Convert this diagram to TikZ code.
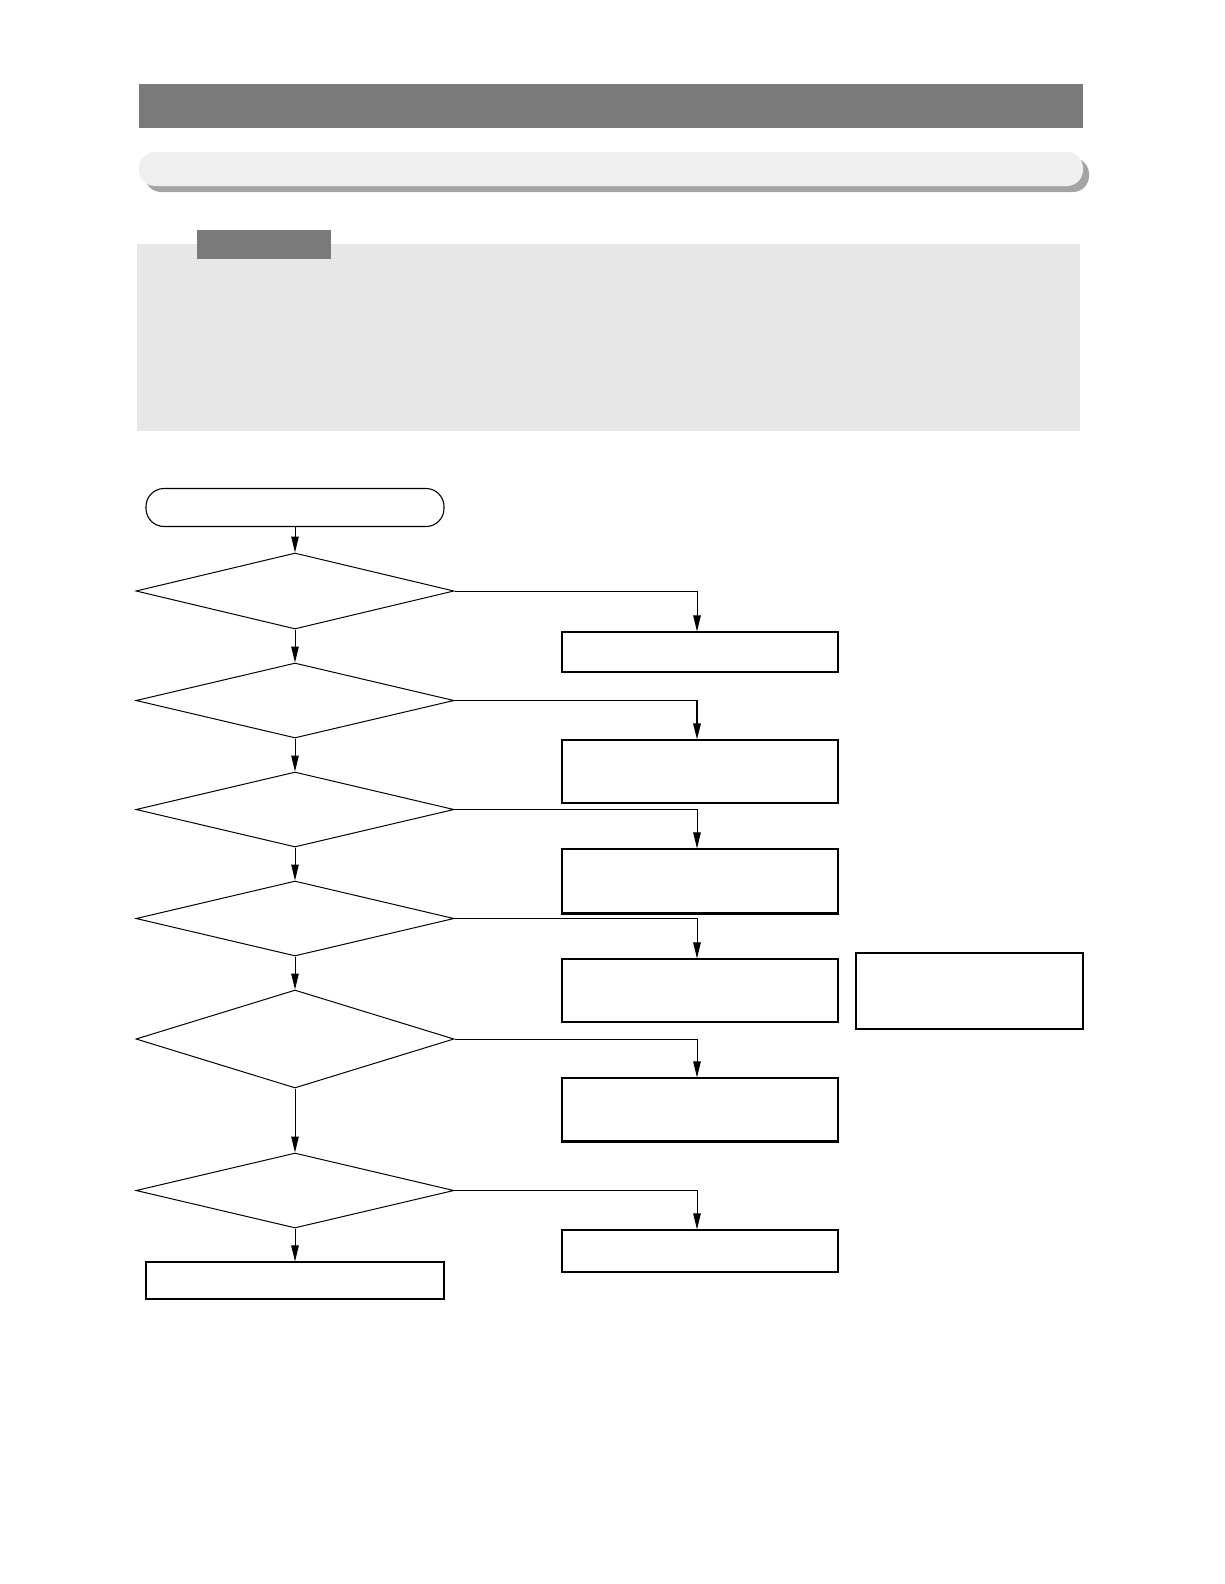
\documentclass[tikz,border=0pt]{standalone}
\usetikzlibrary{shapes.geometric,arrows.meta}
\definecolor{headgrey}{HTML}{7A7A7A}
\definecolor{panelgrey}{HTML}{E7E7E7}
\definecolor{barlight}{HTML}{EFEFEF}
\definecolor{barshadow}{HTML}{A4A4A4}
\tikzset{
  decision/.style={diamond,draw,line width=1pt,inner sep=0pt,minimum width=318pt},
  actbox/.style={rectangle,draw,line width=1.1pt,inner sep=0pt,minimum width=276pt},
  termbox/.style={rectangle,draw,line width=1.1pt,inner sep=0pt,minimum width=298pt},
  flow/.style={line width=1pt,-{Triangle[length=16pt,width=7.5pt]}}
}
\begin{document}
\begin{tikzpicture}[x=1pt,y=-1pt]
\useasboundingbox (0,0) rectangle (1224,1584);
% header bars
\fill[headgrey] (139,84) rectangle (1083,128);
\fill[barshadow,rounded corners=16pt] (145,158) rectangle (1089,192);
\fill[barlight,rounded corners=16pt] (139,152) rectangle (1083,186);
% note panel
\fill[panelgrey] (137,244) rectangle (1080,431);
\fill[headgrey] (197,230) rectangle (331,259);
% flowchart
\node[termbox,rounded corners=18pt,minimum height=38pt] (start) at (295,507.5) {};
\node[decision,minimum height=76pt] (d1) at (295,591) {};
\node[decision,minimum height=75pt] (d2) at (295,700.5) {};
\node[decision,minimum height=75pt] (d3) at (295,809.5) {};
\node[decision,minimum height=75pt] (d4) at (295,918.5) {};
\node[decision,minimum height=98pt] (d5) at (295,1039) {};
\node[decision,minimum height=75pt] (d6) at (295,1190.5) {};
\node[termbox,minimum height=37pt] (finish) at (295,1280.5) {};
\node[actbox,minimum height=40pt] (b1) at (700,652) {};
\node[actbox,minimum height=63pt] (b2) at (700,771.5) {};
\node[actbox,minimum height=64pt] (b3) at (700,881) {};
\node[actbox,minimum height=63pt] (b4) at (700,990.5) {};
\node[actbox,minimum height=63pt] (b5) at (700,1109.5) {};
\node[actbox,minimum height=42pt] (b6) at (700,1251) {};
\node[rectangle,draw,line width=1.1pt,inner sep=0pt,minimum width=227pt,minimum height=76pt] (side) at (969.5,991) {};
\draw[line width=2pt] (b3.south west) -- (b3.south east);
\draw[line width=2pt] (b5.south west) -- (b5.south east);
% vertical flow
\draw[flow] (start) -- (d1.north);
\draw[flow] (d1.south) -- (d2.north);
\draw[flow] (d2.south) -- (d3.north);
\draw[flow] (d3.south) -- (d4.north);
\draw[flow] (d4.south) -- (d5.north);
\draw[flow] (d5.south) -- (d6.north);
\draw[flow] (d6.south) -- (finish.north);
% branches
\draw[flow] (d1.east) -| ([xshift=-3pt]b1.north);
\draw[flow,line width=1.6pt] (d2.east) -| ([xshift=-3pt]b2.north);
\draw[flow] (d3.east) -| ([xshift=-3pt]b3.north);
\draw[flow] (d4.east) -| ([xshift=-3pt]b4.north);
\draw[flow] (d5.east) -| ([xshift=-3pt]b5.north);
\draw[flow] (d6.east) -| ([xshift=-3pt]b6.north);
\end{tikzpicture}
\end{document}
